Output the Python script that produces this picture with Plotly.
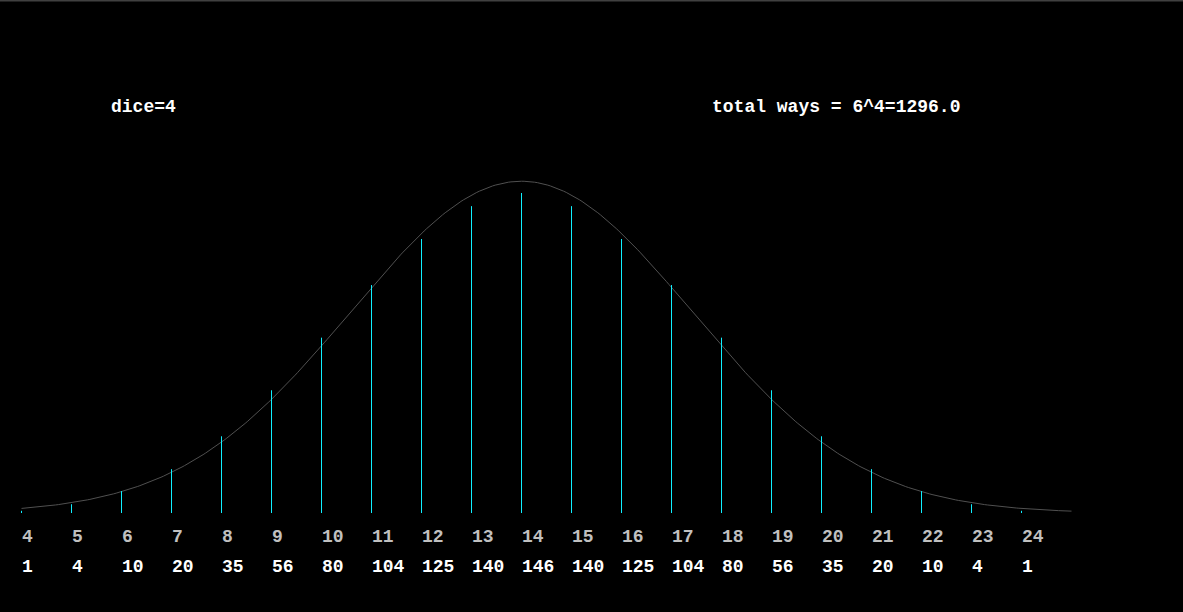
import numpy as np
import plotly.graph_objects as go

sums = list(range(4, 25))
counts = [1, 4, 10, 20, 35, 56, 80, 104, 125, 140, 146, 140, 125, 104, 80, 56, 35, 20, 10, 4, 1]
dice = 4
total = 6 ** dice

W, H = 1183, 612
px_per_x = 50.0
x0_px = 21.5
base_px = 513
px_per_y = (513 - 193) / 146.0

xr = [sums[0] - x0_px / px_per_x, sums[0] + (W - x0_px) / px_per_x]
yr = [-(H - base_px) / px_per_y, base_px / px_per_y]

# vertical lines
lx, ly = [], []
for s, c in zip(sums, counts):
    lx += [s, s, None]
    ly += [0, c, None]

# normal curve fitted from the distribution
cnt = np.array(counts, float)
sv = np.array(sums, float)
mu = (cnt * sv).sum() / cnt.sum()
var = (cnt * (sv - mu) ** 2).sum() / cnt.sum()
sd = np.sqrt(var)
cx = np.linspace(sums[0], sums[-1] + 1, 400)
cy = total * np.exp(-(cx - mu) ** 2 / (2 * var)) / (sd * np.sqrt(2 * np.pi))

fig = go.Figure()
fig.add_trace(go.Scatter(x=cx, y=cy, mode="lines", line=dict(color="#505050", width=1), hoverinfo="skip"))
fig.add_trace(go.Scatter(x=lx, y=ly, mode="lines", line=dict(color="#10f0ff", width=1), hoverinfo="skip"))

font_fam = "Liberation Mono, Courier New, monospace"
ann = []
for s, c in zip(sums, counts):
    ann.append(dict(x=s, y=-(537 - base_px) / px_per_y, xref="x", yref="y", text="<b>%d</b>" % s,
                    showarrow=False, xanchor="left", yanchor="middle", xshift=-2,
                    font=dict(family=font_fam, size=18, color="#c0c0c0")))
    ann.append(dict(x=s, y=-(567 - base_px) / px_per_y, xref="x", yref="y", text="<b>%d</b>" % c,
                    showarrow=False, xanchor="left", yanchor="middle", xshift=-2,
                    font=dict(family=font_fam, size=18, color="#ffffff")))
ann.append(dict(x=109 / W, y=1 - 107 / H, xref="paper", yref="paper", text="<b>dice=%d</b>" % dice,
                showarrow=False, xanchor="left", yanchor="middle",
                font=dict(family=font_fam, size=18, color="#ffffff")))
ann.append(dict(x=710 / W, y=1 - 107 / H, xref="paper", yref="paper",
                text="<b>total ways = 6^%d=%.1f</b>" % (dice, float(total)),
                showarrow=False, xanchor="left", yanchor="middle",
                font=dict(family=font_fam, size=18, color="#ffffff")))

fig.update_layout(
    width=W, height=H,
    margin=dict(l=0, r=0, t=0, b=0),
    paper_bgcolor="#000000", plot_bgcolor="#000000",
    showlegend=False,
    xaxis=dict(range=xr, visible=False, fixedrange=True),
    yaxis=dict(range=yr, visible=False, fixedrange=True),
    annotations=ann,
    shapes=[dict(type="line", xref="paper", yref="paper", x0=0, x1=1, y0=0.999, y1=0.999,
                 line=dict(color="#404040", width=2))],
)
fig.write_html("out.html", config={"displayModeBar": False},
               post_script="document.body.style.margin='0';document.body.style.background='#000';document.body.style.overflow='hidden';")
